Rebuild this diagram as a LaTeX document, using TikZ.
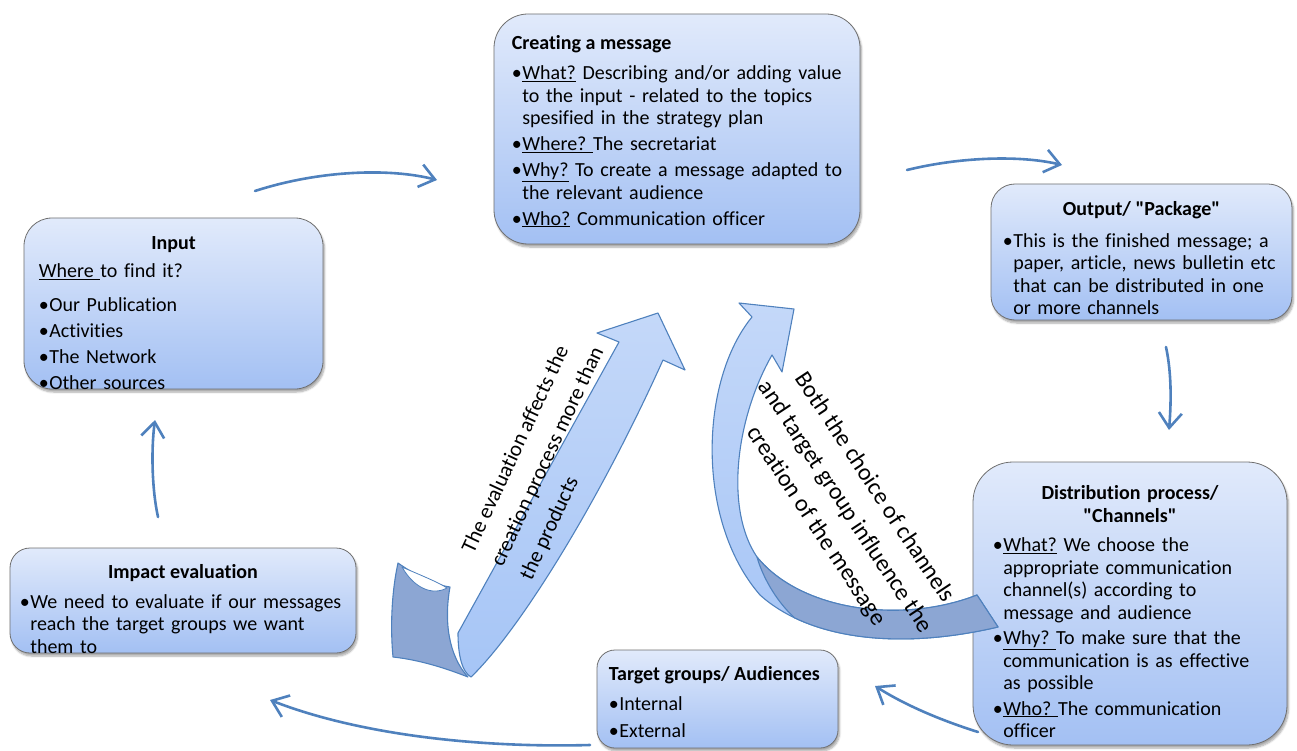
\documentclass[tikz,border=0pt]{standalone}
\usepackage{fontspec}
\setmainfont{Carlito}[Ligatures=NoCommon]
\newfontfamily\plainfont{Carlito}[Ligatures=NoCommon]
\usetikzlibrary{arrows.meta,calc,shadows.blur}

\definecolor{boxtop}{HTML}{E1EAFB}
\definecolor{boxbot}{HTML}{A3C0F3}
\definecolor{boxline}{HTML}{6F6F6F}
\definecolor{linkblue}{HTML}{4F81BD}
\definecolor{bandlight}{HTML}{A6C5F6}
\definecolor{bandpale}{HTML}{C4D8F9}
\definecolor{banddark}{HTML}{8CA6D3}

\tikzset{
  stage/.style={draw=boxline, line width=0.8pt, top color=boxtop, bottom color=boxbot,
    blur shadow={shadow xshift=1.5pt, shadow yshift=-3pt, shadow blur steps=6, shadow opacity=35}},
  head/.style={font=\plainfont\fontsize{20}{22.5}\selectfont\bfseries, inner sep=0pt},
  boxtext/.style={font=\plainfont\fontsize{20}{22.5}\selectfont, inner sep=0pt, align=left,
    text width=#1, anchor=base west},
  link/.style={draw=linkblue, line width=2.6pt, line cap=round,
    -{Straight Barb[length=15pt,width=23pt]}},
  band/.style={draw=linkblue, line width=1.1pt, line join=round},
  note/.style={inner sep=0pt},
}
\newcommand\bul{\makebox[10.5pt][l]{\textbullet}}
\newcommand\hang{\hspace*{10.5pt}}

\begin{document}
\begin{tikzpicture}[x=1pt,y=-1pt]
\useasboundingbox (0,0) rectangle (1297,751);

% stages of the cycle
\node[stage, minimum width=366pt, minimum height=230pt, rounded corners=34pt] (msg) at (677,129) {};
\node[stage, minimum width=301pt, minimum height=136pt, rounded corners=24pt] (out) at (1141.5,252) {};
\node[stage, minimum width=314pt, minimum height=283pt, rounded corners=40pt] (dist) at (1130,603.5) {};
\node[stage, minimum width=241pt, minimum height=98pt, rounded corners=18pt] (aud) at (717.5,699) {};
\node[stage, minimum width=346pt, minimum height=105pt, rounded corners=20pt] (imp) at (183,600.5) {};
\node[stage, minimum width=299pt, minimum height=171pt, rounded corners=28pt] (inp) at (173.5,303.5) {};

% ribbon arrow from the evaluation back to the message
\path[band, fill=banddark] (398,563) .. controls (415,575) and (435,585) .. (450,587)
  .. controls (444,620) and (448,655) .. (468,677)
  .. controls (445,668) and (420,660) .. (393,657)
  .. controls (390,625) and (392,590) .. (398,563) -- cycle;
\path[band, fill=white, line width=0.8pt] (402,567) .. controls (420,575) and (438,582) .. (447,588)
  .. controls (432,596) and (414,588) .. (402,567) -- cycle;
\path[band, top color=bandpale, bottom color=bandlight] (619,342) -- (458,633)
  .. controls (458,655) and (462,672) .. (471,677)
  .. controls (520,630) and (600,500) .. (663,360)
  -- (685,370) -- (658,313) -- (597,333) -- cycle;

% curved arrow from the channels back to the message
\path[band, top color=bandpale, bottom color=bandlight] (752,317)
  .. controls (700,380) and (695,520) .. (760,595)
  .. controls (810,640) and (900,650) .. (998,627) -- (977,595)
  .. controls (900,625) and (800,610) .. (757,557)
  .. controls (725,510) and (735,420) .. (772,355)
  -- (782,372) -- (794,309) -- (739,303) -- cycle;
\path[band, fill=banddark] (977,595) -- (998,627)
  .. controls (919.6,645.4) and (846.3,642.7) .. (794.5,617.8)
  .. controls (775,600) and (762,575) .. (757,557)
  .. controls (800,610) and (900,625) .. (977,595) -- cycle;

\node[note, rotate=65, align=left, font=\plainfont\fontsize{21.5}{32}\selectfont] (evalnote) at (548,457)
  {The evaluation affects the\\creation process more than\\the products};
\node[note, rotate=-56.5, align=center, font=\plainfont\fontsize{24}{35}\selectfont] (chnote) at (845,507)
  {Both the choice of channels\\and target group influence the\\creation of the message};

% thin connectors between the stages
\coordinate (inp-a) at (255,191);  \coordinate (msg-a) at (437,180);
\coordinate (msg-b) at (907,170);  \coordinate (out-a) at (1062,165);
\coordinate (out-b) at (1166,347); \coordinate (dist-a) at (1169,430);
\coordinate (dist-b) at (978,732); \coordinate (aud-a) at (875,686);
\coordinate (aud-b) at (590,745);  \coordinate (imp-a) at (270,700);
\coordinate (imp-b) at (158,517);  \coordinate (inp-b) at (155,420);
\draw[link] (inp-a) .. controls (320,170) and (390,168) .. (msg-a);
\draw[link] (msg-b) .. controls (960,157) and (1020,155) .. (out-a);
\draw[link] (out-b) .. controls (1172,375) and (1171,405) .. (dist-a);
\draw[link] (dist-b) .. controls (940,720) and (905,705) .. (aud-a);
\draw[link] (aud-b) .. controls (480,748) and (360,735) .. (imp-a);
\draw[link] (imp-b) .. controls (152,490) and (151,450) .. (inp-b);

% texts of the stages
\node[head, anchor=base west] (msg-t) at ($(msg.north west)+(18,36)$) {Creating a message};
\node[boxtext=360pt] (msg-x) at ($(msg.north west)+(18,66)$)
  {\bul\underline{What?} Describing and/or adding value\\
   \hang to the input - related to the topics\\
   \hang spesified in the strategy plan\\[3.5pt]
   \bul\underline{Where?\ }The secretariat\\[3.5pt]
   \bul\underline{Why?} To create a message adapted to\\
   \hang the relevant audience\\[3.5pt]
   \bul\underline{Who?} Communication officer};

\node[head, anchor=base] (out-t) at ($(out.north)+(0,31.5)$) {Output/ "Package"};
\node[boxtext=300pt] (out-x) at ($(out.north west)+(12,63.5)$)
  {\bul This is the finished message; a\\
   \hang paper, article, news bulletin etc\\
   \hang that can be distributed in one\\
   \hang or more channels};

\node[head, text width=300pt, align=center, anchor=base] (dist-t) at ($(dist.north)+(0,38)$)
  {Distribution process/\\"Channels"};
\node[boxtext=300pt] (dist-x) at ($(dist.north west)+(20,90)$)
  {\bul\underline{What?} We choose the\\
   \hang appropriate communication\\
   \hang channel(s) according to\\
   \hang message and audience\\[3pt]
   \bul\underline{Why?\ }To make sure that the\\
   \hang communication is as effective\\
   \hang as possible\\[3pt]
   \bul\underline{Who?\ }The communication\\
   \hang officer};

\node[head, anchor=base west] (aud-t) at ($(aud.north west)+(12,31)$) {Target groups/ Audiences};
\node[boxtext=230pt] (aud-x) at ($(aud.north west)+(12,61)$)
  {\bul Internal\\[4pt]
   \bul External};

\node[head, anchor=base] (imp-t) at ($(imp.north)+(0,30.5)$) {Impact evaluation};
\node[boxtext=340pt] (imp-x) at ($(imp.north west)+(10,60.5)$)
  {\bul We need to evaluate if our messages\\
   \hang reach the target groups we want\\
   \hang them to};

\node[head, anchor=base] (inp-t) at ($(inp.north)+(0,32)$) {Input};
\node[boxtext=290pt] (inp-x) at ($(inp.north west)+(15,60)$)
  {\underline{Where\ }to find it?\\[11pt]
   \bul Our Publication\\[3.5pt]
   \bul Activities\\[3.5pt]
   \bul The Network\\[3.5pt]
   \bul Other sources};
\end{tikzpicture}
\end{document}
